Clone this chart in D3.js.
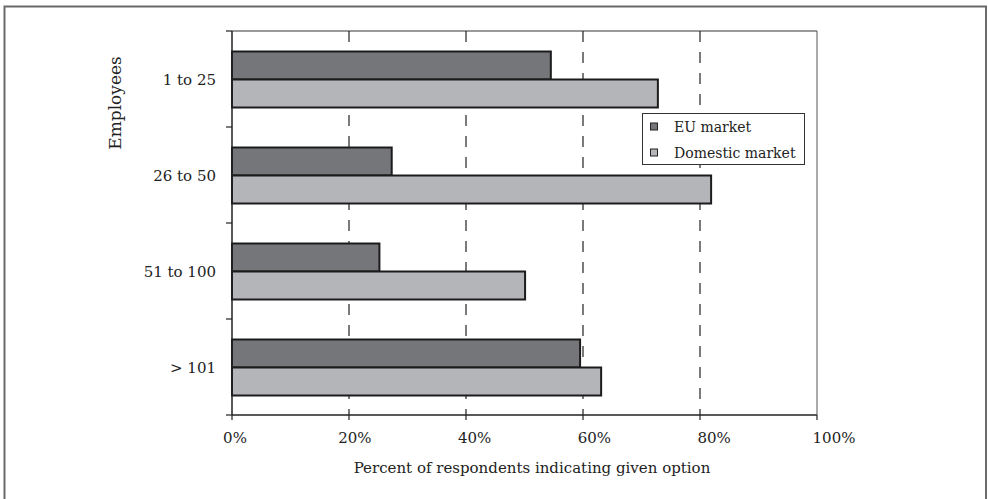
<!DOCTYPE html>
<html><head><meta charset="utf-8">
<script src="https://cdn.jsdelivr.net/npm/d3@7"></script>
<style>body{margin:0;background:#fff}svg{display:block}text{font-family:"DejaVu Serif",serif;fill:#222}</style>
</head><body><svg id="c" width="988" height="499"></svg>
<script>
const categories = ["1 to 25", "26 to 50", "51 to 100", "> 101"];
const seriesNames = ["EU market", "Domestic market"];
const euMarket = [0.545, 0.273, 0.252, 0.595];
const domesticMarket = [0.728, 0.819, 0.501, 0.631];
const xTicks = [0, 0.2, 0.4, 0.6, 0.8, 1.0];
const xTickLabels = ["0%", "20%", "40%", "60%", "80%", "100%"];
const colors = ["#75767a", "#b4b5b8"];

const svg = d3.select("#c");
const L = 232, R = 817, T = 31, B = 415;
const x = d3.scaleLinear().domain([0, 1]).range([L, R]);
const xLabel = d3.scaleLinear().domain([0, 1]).range([235, 834]);
const y = d3.scaleBand().domain(categories).range([T, B]);
const sub = d3.scaleBand().domain(seriesNames).range([20.5, 76.5]);

// outer frame
svg.append("rect").attr("x", 4.5).attr("y", 6.5).attr("width", 981.5).attr("height", 510)
  .attr("fill", "none").attr("stroke", "#6a6a6a").attr("stroke-width", 2);

// top border of plot
svg.append("line").attr("x1", L).attr("x2", R).attr("y1", T).attr("y2", T)
  .attr("stroke", "#777").attr("stroke-width", 1.5);

// gridlines
svg.append("g").selectAll("line").data(xTicks.filter(d => d > 0 && d < 1)).join("line")
  .attr("x1", d => x(d)).attr("x2", d => x(d)).attr("y1", T).attr("y2", B)
  .attr("stroke", "#222").attr("stroke-width", 1.2).attr("stroke-dasharray", "11,10");

// bars
const rows = categories.map((c, i) => ({c, vals: [euMarket[i], domesticMarket[i]]}));
const g = svg.append("g").selectAll("g").data(rows).join("g")
  .attr("transform", d => `translate(0,${y(d.c)})`);
g.selectAll("rect").data(d => d.vals.map((v, j) => ({v, s: seriesNames[j], j}))).join("rect")
  .attr("x", x(0)).attr("y", d => sub(d.s)).attr("width", d => x(d.v) - x(0)).attr("height", sub.bandwidth())
  .attr("fill", d => colors[d.j]).attr("stroke", "#1c1c1c").attr("stroke-width", 2);

// y axis
svg.append("line").attr("x1", L).attr("x2", L).attr("y1", T).attr("y2", B).attr("stroke", "#222").attr("stroke-width", 1.5);
const yBounds = categories.map(c => y(c)).concat([B]);
svg.append("g").selectAll("line").data(yBounds).join("line")
  .attr("x1", L - 6).attr("x2", L).attr("y1", d => d).attr("y2", d => d).attr("stroke", "#222").attr("stroke-width", 1.2);
svg.append("g").selectAll("text").data(categories).join("text")
  .attr("x", 216).attr("y", d => y(d) + y.bandwidth() / 2).attr("dy", "0.4em")
  .attr("text-anchor", "end").attr("font-size", 15).text(d => d);

// x axis
svg.append("line").attr("x1", L).attr("x2", R).attr("y1", B).attr("y2", B).attr("stroke", "#222").attr("stroke-width", 1.5);
svg.append("g").selectAll("line").data(xTicks).join("line")
  .attr("x1", d => x(d)).attr("x2", d => x(d)).attr("y1", B).attr("y2", B + 5).attr("stroke", "#222").attr("stroke-width", 1.2);
svg.append("line").attr("x1", R).attr("x2", R).attr("y1", T).attr("y2", B).attr("stroke", "#555").attr("stroke-width", 1);
svg.append("g").selectAll("text").data(xTicks).join("text")
  .attr("x", d => xLabel(d)).attr("y", 443).attr("text-anchor", "middle").attr("font-size", 15)
  .text((d, i) => xTickLabels[i]);

// titles
svg.append("text").attr("x", 532).attr("y", 473).attr("text-anchor", "middle").attr("font-size", 15)
  .text("Percent of respondents indicating given option");
svg.append("text").attr("transform", "translate(121,103) rotate(-90)").attr("text-anchor", "middle")
  .attr("font-size", 17).text("Employees");

// legend
const lg = svg.append("g");
lg.append("rect").attr("x", 642.5).attr("y", 113.5).attr("width", 162).attr("height", 51)
  .attr("fill", "#fff").attr("stroke", "#333").attr("stroke-width", 1);
const li = lg.selectAll("g").data(seriesNames).join("g")
  .attr("transform", (d, i) => `translate(0,${127 + i * 26})`);
li.append("rect").attr("x", 650.5).attr("y", -4).attr("width", 7).attr("height", 7)
  .attr("fill", (d, i) => colors[i]).attr("stroke", "#222").attr("stroke-width", 1);
li.append("text").attr("x", 674).attr("y", 5).attr("font-size", 14).text(d => d);
</script></body></html>
